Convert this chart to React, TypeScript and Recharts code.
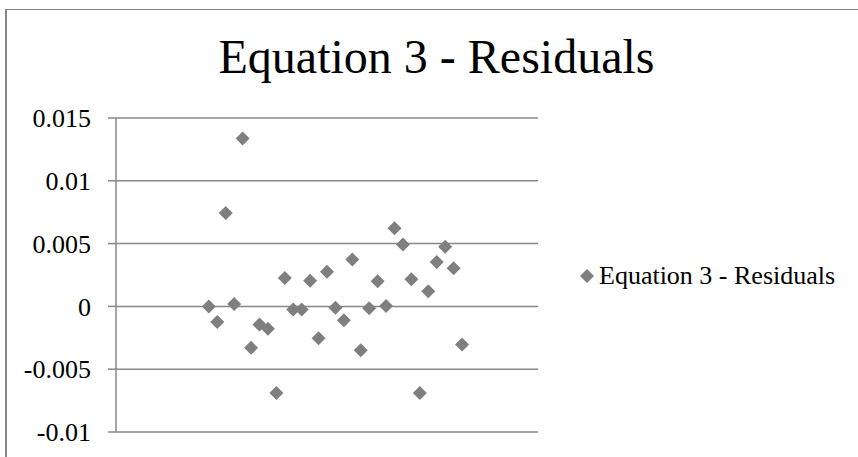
import { ScatterChart, Scatter, XAxis, YAxis, CartesianGrid, Legend } from "recharts"

// observation number (x) and residual (y)
const observations = [
  1, 2, 3, 4, 5, 6, 7, 8, 9, 10, 11, 12, 13, 14, 15, 16, 17, 18, 19, 20, 21, 22, 23, 24, 25, 26, 27, 28, 29, 30, 31,
]
const residuals = [
  0.0, -0.00124, 0.00744, 0.0002, 0.01336, -0.0033, -0.00145, -0.00177, -0.00689, 0.00227, -0.00025,
  -0.00025, 0.00205, -0.00254, 0.00275, -0.0001, -0.00111, 0.00373, -0.0035, -0.00015, 0.002, 0.00004,
  0.00622, 0.00492, 0.00216, -0.00689, 0.0012, 0.00354, 0.00474, 0.00303, -0.00304,
]
const yTicks = [-0.01, -0.005, 0, 0.005, 0.01, 0.015]
const xDomain = [-10, 40]
const seriesName = "Equation 3 - Residuals"
const title = "Equation 3 - Residuals"

const data = observations.map((x, i) => ({ x, y: residuals[i] }))

const FONT = '"Liberation Serif", "Times New Roman", serif'
const GRID = "#878787"
const MARKER = "#7f7f7f"

const Diamond = (props: any) => {
  const { cx, cy } = props
  if (cx == null || cy == null) return null
  const r = 7
  return (
    <polygon
      points={`${cx},${cy - r} ${cx + r},${cy} ${cx},${cy + r} ${cx - r},${cy}`}
      fill={MARKER}
    />
  )
}

const YTick = (props: any) => {
  const { x, y, payload } = props
  return (
    <text x={x} y={y} dy="0.355em" textAnchor="end" fontFamily={FONT} fontSize={26} fill="#000">
      {String(payload.value)}
    </text>
  )
}

const LegendContent = () => (
  <div style={{ display: "flex", alignItems: "center", height: 26, fontFamily: FONT, fontSize: 26, lineHeight: "26px", color: "#000", whiteSpace: "nowrap" }}>
    <svg width={14} height={14} style={{ marginRight: 5 }}>
      <polygon points="7,0 14,7 7,14 0,7" fill={MARKER} />
    </svg>
    <span>{seriesName}</span>
  </div>
)

export default function App() {
  return (
    <div style={{ position: "absolute", left: 0, top: 0, width: 858, height: 457, overflow: "hidden", background: "#fff", fontFamily: FONT }}>
      <div
        style={{
          position: "absolute",
          left: 5,
          top: 9,
          width: 900,
          height: 500,
          borderTop: `1px solid ${GRID}`,
          borderLeft: `2px solid ${GRID}`,
        }}
      />
      <div
        style={{
          position: "absolute",
          left: 0,
          top: 33,
          width: 873,
          textAlign: "center",
          fontSize: 48,
          lineHeight: "48px",
          color: "#000",
        }}
      >
        {title}
      </div>
      <div style={{ position: "absolute", left: 0, top: 0 }}>
        <ScatterChart width={858} height={457} margin={{ top: 118, right: 320, bottom: 25, left: 0 }}>
          <CartesianGrid vertical={false} stroke={GRID} strokeWidth={1.5} />
          <XAxis type="number" dataKey="x" domain={xDomain} height={0} hide />
          <YAxis
            type="number"
            dataKey="y"
            domain={[yTicks[0], yTicks[yTicks.length - 1]]}
            ticks={yTicks}
            interval={0}
            width={116}
            axisLine={{ stroke: GRID, strokeWidth: 1.5 }}
            tickLine={{ stroke: GRID, strokeWidth: 1.5 }}
            tickSize={8}
            tickMargin={17}
            tick={<YTick />}
          />
          <Legend
            layout="horizontal"
            verticalAlign="middle"
            align="center"
            content={<LegendContent />}
            wrapperStyle={{ position: "absolute", left: 580, top: 263, width: "auto" }}
          />
          <Scatter name={seriesName} data={data} fill={MARKER} shape={<Diamond />} isAnimationActive={false} />
        </ScatterChart>
      </div>
    </div>
  )
}
